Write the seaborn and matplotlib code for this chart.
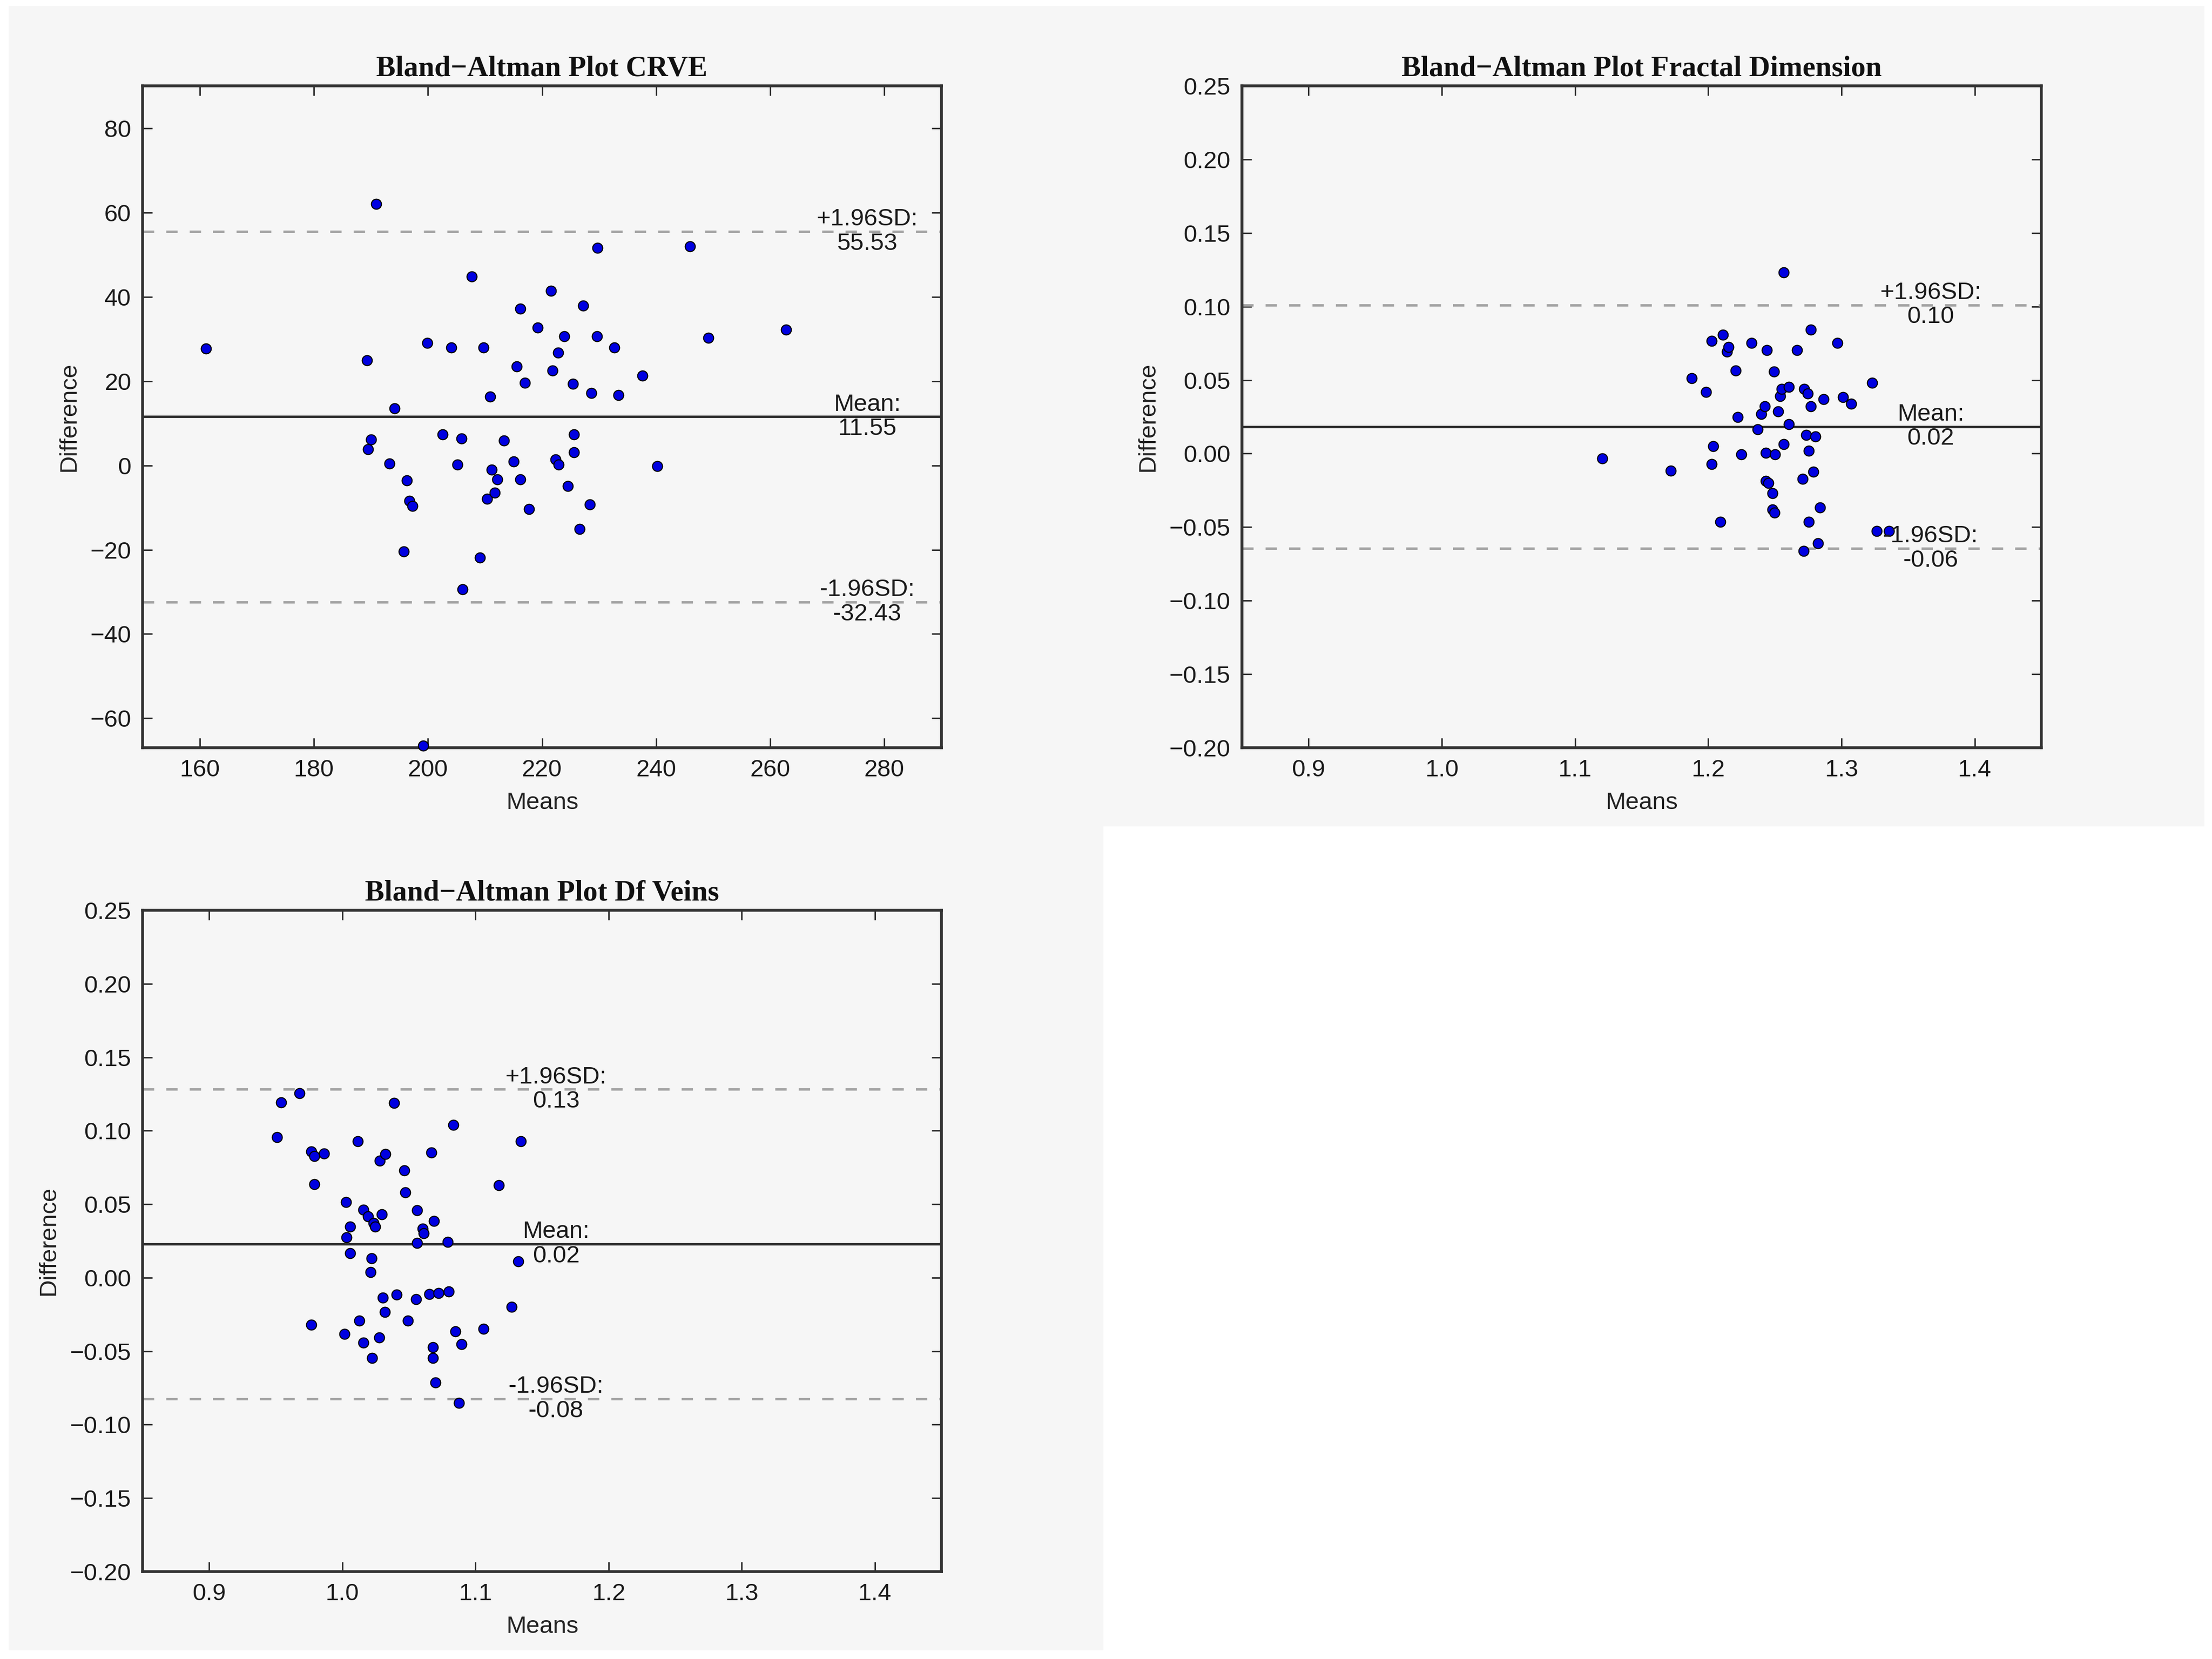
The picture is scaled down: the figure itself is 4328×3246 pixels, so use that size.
import matplotlib
matplotlib.use("Agg")
import matplotlib.pyplot as plt
import seaborn as sns
import numpy as np
import pandas as pd
from matplotlib.patches import Rectangle

# ---------------- data ----------------
crve_means = [161.1, 190.9, 189.3, 189.5, 190.0, 193.3, 194.2, 196.3, 196.8, 197.3,
              195.8, 199.9, 199.2, 202.6, 204.1, 205.2, 205.9, 206.1, 207.7, 209.1,
              209.7, 210.9, 210.4, 211.2, 211.7, 212.2, 213.3, 215.0, 215.6, 216.2,
              216.2, 217.0, 217.7, 219.2, 221.6, 221.8, 222.4, 222.9, 222.8, 223.9,
              224.5, 225.4, 225.6, 225.6, 226.6, 227.2, 228.4, 228.6, 229.6, 229.7,
              232.7, 233.4, 237.6, 240.2, 245.9, 249.2, 262.8]
crve_diffs = [27.7, 62.1, 25.0, 3.8, 6.2, 0.5, 13.6, -3.6, -8.4, -9.6,
              -20.4, 29.1, -66.5, 7.4, 28.0, 0.2, 6.4, -29.4, 44.8, -21.9,
              28.0, 16.3, -7.9, -1.0, -6.5, -3.3, 5.9, 0.9, 23.5, 37.2,
              -3.3, 19.6, -10.4, 32.7, 41.5, 22.5, 1.4, 0.2, 26.8, 30.7,
              -4.9, 19.4, 7.4, 3.1, -15.1, 37.9, -9.3, 17.2, 30.7, 51.6,
              28.0, 16.7, 21.3, -0.1, 52.0, 30.3, 32.2]
crve_mean_diff, crve_upper, crve_lower = 11.55, 55.53, -32.43

fd_means = [1.1203, 1.1718, 1.1877, 1.1983, 1.2026, 1.2036, 1.2026, 1.2089, 1.2110, 1.2142,
            1.2153, 1.2206, 1.2222, 1.2249, 1.2323, 1.2371, 1.2397, 1.2424, 1.2434, 1.2440,
            1.2434, 1.2450, 1.2482, 1.2482, 1.2498, 1.2493, 1.2503, 1.2525, 1.2540, 1.2551,
            1.2567, 1.2567, 1.2604, 1.2604, 1.2668, 1.2710, 1.2716, 1.2721, 1.2747, 1.2737,
            1.2753, 1.2753, 1.2769, 1.2769, 1.2790, 1.2806, 1.2822, 1.2838, 1.2864, 1.2970,
            1.3013, 1.3071, 1.3231, 1.3263, 1.3358]
fd_diffs = [-0.0032, -0.0115, 0.0511, 0.0417, 0.0766, 0.0050, -0.0072, -0.0464, 0.0809, 0.0694,
            0.0723, 0.0565, 0.0248, -0.0007, 0.0752, 0.0166, 0.0270, 0.0320, 0.0004, 0.0702,
            -0.0187, -0.0201, -0.0270, -0.0381, -0.0403, 0.0558, -0.0007, 0.0288, 0.0392, 0.0439,
            0.1230, 0.0065, 0.0453, 0.0198, 0.0702, -0.0173, -0.0662, 0.0439, 0.0407, 0.0126,
            0.0018, -0.0464, 0.0320, 0.0842, -0.0122, 0.0115, -0.0611, -0.0367, 0.0371, 0.0752,
            0.0385, 0.0338, 0.0482, -0.0525, -0.0525]
fd_mean_diff, fd_upper, fd_lower = 0.0183, 0.1011, -0.0645

dfv_means = [0.9509, 0.9540, 0.9678, 0.9768, 0.9789, 0.9863, 0.9789, 0.9768, 1.0017, 1.0028,
             1.0033, 1.0059, 1.0059, 1.0118, 1.0128, 1.0160, 1.0160, 1.0192, 1.0218, 1.0213,
             1.0224, 1.0234, 1.0245, 1.0277, 1.0282, 1.0298, 1.0324, 1.0303, 1.0319, 1.0388,
             1.0409, 1.0467, 1.0473, 1.0494, 1.0552, 1.0563, 1.0563, 1.0605, 1.0610, 1.0653,
             1.0669, 1.0679, 1.0679, 1.0690, 1.0700, 1.0722, 1.0790, 1.0801, 1.0833, 1.0849,
             1.0875, 1.0896, 1.1061, 1.1177, 1.1272, 1.1320, 1.1341]
dfv_diffs = [0.0957, 0.1191, 0.1256, 0.0860, 0.0827, 0.0845, 0.0636, -0.0319, -0.0384, 0.0514,
             0.0276, 0.0348, 0.0168, 0.0928, -0.0294, 0.0463, -0.0442, 0.0416, 0.0132, 0.0038,
             -0.0546, 0.0373, 0.0348, -0.0406, 0.0795, 0.0431, 0.0842, -0.0135, -0.0233, 0.1188,
             -0.0114, 0.0730, 0.0579, -0.0294, -0.0146, 0.0460, 0.0236, 0.0333, 0.0301, -0.0110,
             0.0852, -0.0474, -0.0546, 0.0384, -0.0712, -0.0106, 0.0243, -0.0096, 0.1040, -0.0366,
             -0.0853, -0.0452, -0.0348, 0.0629, -0.0200, 0.0110, 0.0928]
dfv_mean_diff, dfv_upper, dfv_lower = 0.0229, 0.1282, -0.0824

titles = ["Bland\u2212Altman Plot CRVE",
          "Bland\u2212Altman Plot Fractal Dimension",
          "Bland\u2212Altman Plot Df Veins"]

# ---------------- style ----------------
sns.set_style("ticks")
plt.rcParams['font.family'] = ['Liberation Sans', 'DejaVu Sans']
plt.rcParams['lines.scale_dashes'] = False
BG = '#f6f6f6'
FS = 34

fig = plt.figure(figsize=(43.28, 32.46), dpi=100, facecolor='white')
W, H = 4328.0, 3246.0
# grey canvas of the three original figures
fig.patches.append(Rectangle((17 / W, 1 - 1617 / H), (4313 - 17) / W, (1617 - 12) / H,
                             transform=fig.transFigure, facecolor=BG, edgecolor='none', zorder=-10))
fig.patches.append(Rectangle((17 / W, 1 - 3229 / H), (2159 - 17) / W, (3229 - 1617) / H,
                             transform=fig.transFigure, facecolor=BG, edgecolor='none', zorder=-10))

ax1 = fig.add_axes([279 / W, 1 - 1463 / H, (1842 - 279) / W, (1463 - 168) / H])
ax2 = fig.add_axes([2430 / W, 1 - 1463 / H, (3994 - 2430) / W, (1463 - 168) / H])
ax3 = fig.add_axes([279 / W, 1 - 3075 / H, (1842 - 279) / W, (3075 - 1781) / H])
for a in (ax1, ax2, ax3):
    a.set_zorder(5)

panels = [
    (ax1, crve_means, crve_diffs, crve_mean_diff, crve_upper, crve_lower, titles[0],
     (150, 290), (-67.0, 90.1), np.arange(160, 281, 20), np.arange(-60, 81, 20), 277.0, '{:.0f}', '{:.0f}'),
    (ax2, fd_means, fd_diffs, fd_mean_diff, fd_upper, fd_lower, titles[1],
     (0.85, 1.45), (-0.2, 0.25), np.arange(0.9, 1.41, 0.1), np.arange(-0.20, 0.251, 0.05), 1.367, '{:.1f}', '{:.2f}'),
    (ax3, dfv_means, dfv_diffs, dfv_mean_diff, dfv_upper, dfv_lower, titles[2],
     (0.85, 1.45), (-0.2, 0.25), np.arange(0.9, 1.41, 0.1), np.arange(-0.20, 0.251, 0.05), 1.1606, '{:.1f}', '{:.2f}'),
]

for (ax, means, diffs, md, up, lo, title, xl, yl, xt, yt, tx, xfmt, yfmt) in panels:
    ax.set_facecolor(BG)
    df = pd.DataFrame({'Means': means, 'Difference': diffs})
    ax.axhline(md, color='#2b2b2b', lw=3.4, zorder=1)
    ax.axhline(up, color='#a3a3a3', lw=3.4, ls=(0, (16, 17)), zorder=1)
    ax.axhline(lo, color='#a3a3a3', lw=3.4, ls=(0, (16, 17)), zorder=1)
    sns.scatterplot(data=df, x='Means', y='Difference', ax=ax, color='#0000e0',
                    edgecolor='black', linewidth=1.5, s=200, zorder=3, clip_on=False)
    ax.set_xlim(*xl)
    ax.set_ylim(*yl)
    ax.set_xticks(xt)
    ax.set_yticks(yt)
    ax.set_xticklabels([xfmt.format(v).replace('-', '\u2212') for v in xt])
    ax.set_yticklabels([yfmt.format(v).replace('-', '\u2212') if abs(v) > 1e-9 else yfmt.format(0.0) for v in yt])
    ax.tick_params(direction='in', length=14, width=2, top=True, right=True,
                   labelsize=FS, pad=16, colors='#262626', labelcolor='#1a1a1a')
    for sp in ax.spines.values():
        sp.set_visible(True)
        sp.set_linewidth(4)
        sp.set_color('#333333')
    ax.set_xlabel('Means', fontsize=FS, color='#222222', labelpad=14)
    ax.set_ylabel('Difference', fontsize=FS, color='#222222', labelpad=14)
    ax.set_title(title, fontsize=41, fontweight='bold', family=['Liberation Serif', 'DejaVu Serif'],
                 pad=14, color='#111111')
    ax.text(tx, up, '+1.96SD:\n' + '{:.2f}'.format(up), ha='center', va='center',
            fontsize=FS, linespacing=1.1, color='#1a1a1a', zorder=4)
    ax.text(tx, md, 'Mean:\n' + '{:.2f}'.format(md), ha='center', va='center',
            fontsize=FS, linespacing=1.1, color='#1a1a1a', zorder=4)
    ax.text(tx, lo, '-1.96SD:\n' + '{:.2f}'.format(lo), ha='center', va='center',
            fontsize=FS, linespacing=1.1, color='#1a1a1a', zorder=4)

fig.savefig('out.png', dpi=100, facecolor='white')
